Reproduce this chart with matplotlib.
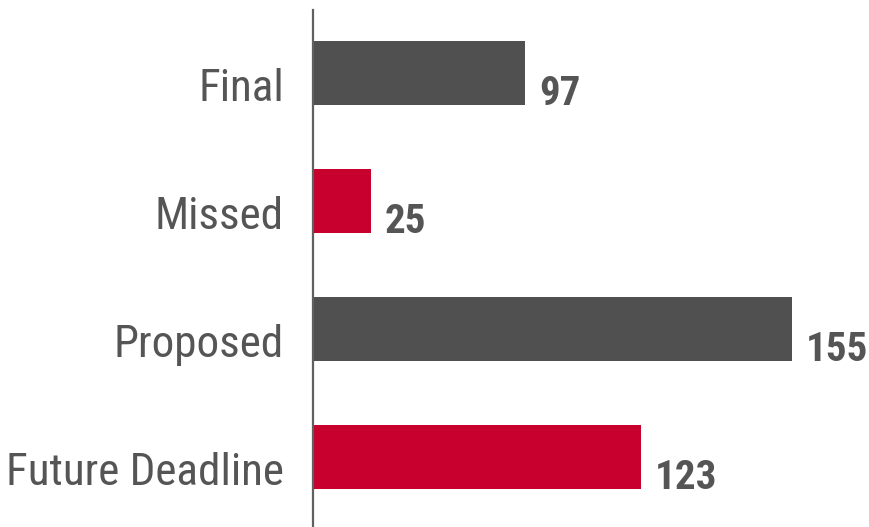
import matplotlib
matplotlib.use('Agg')
import matplotlib.pyplot as plt
from matplotlib.transforms import ScaledTranslation

plt.rcParams['font.family'] = ['Roboto Condensed', 'Archivo Narrow', 'DejaVu Sans']

# data
categories = ['Final', 'Missed', 'Proposed', 'Future Deadline']
values = [97, 25, 155, 123]              # printed labels
bar_lengths = [68.6, 18.8, 155, 106.1]   # bar lengths as drawn in the picture
bar_colors = ['#505050', '#C8002D', '#505050', '#C8002D']
text_gray = '#555555'

fig = plt.figure(figsize=(8.7, 5.27), dpi=100)
ax = fig.add_axes([313 / 870, 0, 557 / 870, 517 / 527])

pos = list(range(len(categories)))
ax.barh(pos, bar_lengths, height=0.5, color=bar_colors)

for p, L, v in zip(pos, bar_lengths, values):
    ax.annotate(str(v), (L, p + 0.25), xytext=(10, 0), textcoords='offset points',
                ha='left', va='baseline', fontsize=29.5, fontweight='bold', color=text_gray)

ax.set_xlim(0, 180.2)
ax.set_ylim(3.543, -0.496)
ax.set_yticks(pos)
ax.set_yticklabels(categories, fontsize=32.5, color=text_gray)
ax.tick_params(axis='y', length=0, pad=21)
# labels sit a little below the bar centres in the original
shift = ScaledTranslation(0, -8 / 72, fig.dpi_scale_trans)
for lab in ax.get_yticklabels():
    lab.set_transform(lab.get_transform() + shift)
ax.set_xticks([])
for s in ['top', 'right', 'bottom']:
    ax.spines[s].set_visible(False)
ax.spines['left'].set_color('#606060')
ax.spines['left'].set_linewidth(1.6)

fig.savefig('out.png', dpi=100)
